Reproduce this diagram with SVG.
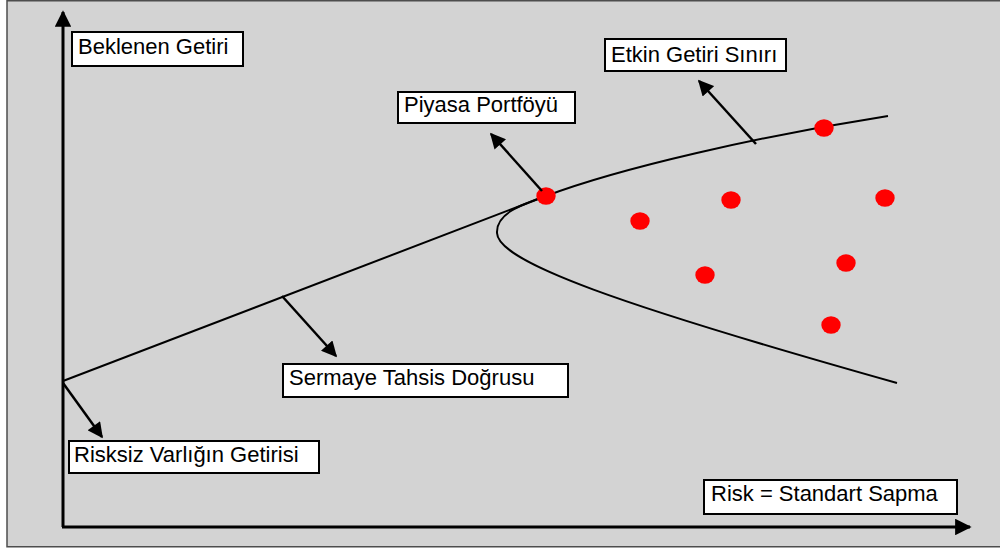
<svg xmlns="http://www.w3.org/2000/svg" width="1000" height="550" viewBox="0 0 1000 550">
  <style>
    .frame { fill: #d3d3d3; stroke: #4d4d4d; stroke-width: 1.5; }
    .axis { fill: none; stroke: #000; stroke-width: 3; }
    .curve { fill: none; stroke: #000; stroke-width: 2; }
    .pointer { fill: none; stroke: #000; stroke-width: 2.5; }
    .box { fill: #fff; stroke: #000; stroke-width: 2; }
    .label { font-family: "Liberation Sans", Arial, sans-serif; font-size: 22px; fill: #000; }
    .asset { fill: #ff0000; }
  </style>
  <defs>
    <marker id="head" viewBox="0 0 10 10" refX="9" refY="5" markerWidth="6.5" markerHeight="6.2" markerUnits="strokeWidth" orient="auto">
      <path d="M0,0 L10,5 L0,10 Z" fill="#000"/>
    </marker>
    <marker id="axisHead" viewBox="0 0 10 10" refX="9" refY="5" markerWidth="5.5" markerHeight="5.5" markerUnits="strokeWidth" orient="auto">
      <path d="M0,0 L10,5 L0,10 Z" fill="#000"/>
    </marker>
  </defs>

  <!-- background panel -->
  <rect class="frame" x="7" y="0.75" width="1000" height="546"/>

  <!-- axes -->
  <g id="axes">
    <path class="axis" d="M63,527 L63,12" marker-end="url(#axisHead)"/>
    <path class="axis" d="M62,527 L970,527" marker-end="url(#axisHead)"/>
  </g>

  <!-- capital allocation line and efficient frontier -->
  <g id="curves">
    <path class="curve" d="M63,381 L546,196"/>
    <path class="curve" d="M888,116 C760,136 620,168 546,196 C520,205 496,214 497,233 C498,262 620,305 897,383"/>
  </g>

  <!-- portfolios -->
  <g id="portfolios">
    <ellipse class="asset" cx="546" cy="196" rx="9.7" ry="8.7"/>
    <ellipse class="asset" cx="824" cy="128" rx="9.7" ry="8.7"/>
    <ellipse class="asset" cx="640" cy="221" rx="9.7" ry="8.7"/>
    <ellipse class="asset" cx="731" cy="200" rx="9.7" ry="8.7"/>
    <ellipse class="asset" cx="885" cy="198" rx="9.7" ry="8.7"/>
    <ellipse class="asset" cx="705" cy="275" rx="9.7" ry="8.7"/>
    <ellipse class="asset" cx="846" cy="263" rx="9.7" ry="8.7"/>
    <ellipse class="asset" cx="831" cy="325" rx="9.7" ry="8.7"/>
  </g>

  <!-- pointer arrows -->
  <g id="connectors">
    <path class="pointer" d="M542,191 L491,134" marker-end="url(#head)"/>
    <path class="pointer" d="M756,144 L699,81" marker-end="url(#head)"/>
    <path class="pointer" d="M282,296 L336,356" marker-end="url(#head)"/>
    <path class="pointer" d="M63,383 L102,437" marker-end="url(#head)"/>
  </g>

  <g id="label-expected-return">
    <rect class="box" x="72" y="32" width="171" height="34"/>
    <text class="label" x="78" y="54">Beklenen Getiri</text>
  </g>
  <g id="label-efficient-frontier">
    <rect class="box" x="605" y="39" width="181" height="32"/>
    <text class="label" x="611" y="62">Etkin Getiri Sınırı</text>
  </g>
  <g id="label-market-portfolio">
    <rect class="box" x="398" y="92" width="177" height="31"/>
    <text class="label" x="404" y="112">Piyasa Portföyü</text>
  </g>
  <g id="label-cal">
    <rect class="box" x="283" y="364" width="285" height="33"/>
    <text class="label" x="289" y="385">Sermaye Tahsis Doğrusu</text>
  </g>
  <g id="label-risk-free">
    <rect class="box" x="69" y="441" width="250" height="32"/>
    <text class="label" x="74" y="462">Risksiz Varlığın Getirisi</text>
  </g>
  <g id="label-risk">
    <rect class="box" x="704" y="480" width="253" height="34"/>
    <text class="label" x="711" y="501">Risk = Standart Sapma</text>
  </g>
</svg>
